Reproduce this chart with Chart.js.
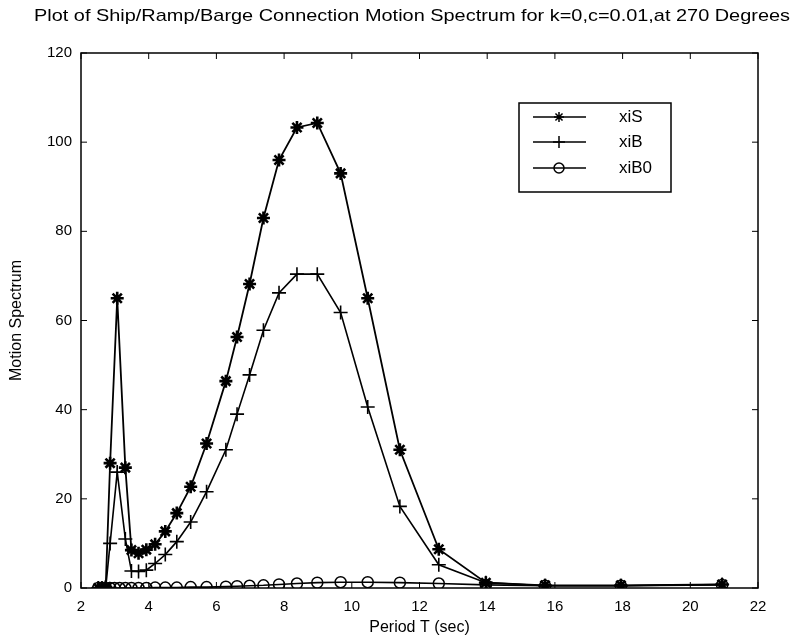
<!DOCTYPE html>
<html>
<head>
<meta charset="utf-8">
<script src="https://cdn.jsdelivr.net/npm/chart.js@4.4.0/dist/chart.umd.min.js"></script>
<style>
  html, body { margin: 0; padding: 0; background: #fff; }
</style>
</head>
<body>
<canvas id="chart" width="804" height="642"></canvas>
<script>
// Period T (sec) for each series
const periodS = [2.51, 2.62, 2.73, 2.86, 3.07, 3.31, 3.49, 3.70, 3.93, 4.19, 4.49, 4.83, 5.24, 5.71,
  6.28, 6.61, 6.98, 7.39, 7.85, 8.38, 8.98, 9.67, 10.47, 11.42, 12.57, 13.96, 15.71, 17.95, 20.94];
const xiS = [0, 0, 0.2, 28, 65, 27, 8.5, 7.8, 8.6, 9.8, 12.7, 16.8, 22.7, 32.4,
  46.4, 56.3, 68.2, 83, 96, 103.3, 104.3, 93, 65, 31, 8.7, 1.2, 0.6, 0.6, 0.8];

const periodB = [2.51, 2.62, 2.73, 2.86, 3.07, 3.31, 3.49, 3.70, 3.93, 4.19, 4.49, 4.83, 5.24, 5.71,
  6.28, 6.61, 6.98, 7.39, 7.85, 8.38, 8.98, 9.67, 10.47, 11.42, 12.57, 13.96, 15.71, 17.95, 20.94];
const xiB = [0, 0, 0.1, 10, 26, 11, 3.8, 3.7, 4, 5.5, 7.5, 10.4, 14.8, 21.6,
  31, 39, 47.8, 57.8, 66.2, 70.4, 70.4, 61.8, 40.6, 18.3, 5.2, 1.2, 0.5, 0.5, 0.8];

const periodB0 = [2.51, 2.62, 2.73, 2.86, 2.99, 3.14, 3.31, 3.49, 3.70, 3.93, 4.19, 4.49, 4.83, 5.24, 5.71,
  6.28, 6.61, 6.98, 7.39, 7.85, 8.38, 8.98, 9.67, 10.47, 11.42, 12.57, 13.96, 15.71, 17.95, 20.94];
const xiB0 = [0, 0, 0, 0, 0, 0, 0, 0, 0, 0, 0.1, 0.1, 0.1, 0.2, 0.2,
  0.3, 0.4, 0.5, 0.6, 0.8, 1.0, 1.2, 1.3, 1.3, 1.2, 1.0, 0.7, 0.5, 0.5, 0.7];

const xTickLabels = [2, 4, 6, 8, 10, 12, 14, 16, 18, 20, 22];
const yTickLabels = [0, 20, 40, 60, 80, 100, 120];

const titleText = "Plot of Ship/Ramp/Barge Connection Motion Spectrum for k=0,c=0.01,at 270 Degrees";
const FONT = "'Liberation Sans', Arial, sans-serif";

const pts = (xs, ys) => xs.map((x, i) => ({ x: x, y: ys[i] }));

// frame, inward ticks, titles and the boxed legend, MATLAB style
const matlabLook = {
  id: "matlabLook",
  afterDraw(chart) {
    const { ctx, chartArea: a, scales } = chart;
    const x = scales.x, y = scales.y;
    ctx.save();
    ctx.strokeStyle = "#000";
    ctx.fillStyle = "#000";
    ctx.lineWidth = 1.5;
    ctx.strokeRect(a.left, a.top, a.right - a.left, a.bottom - a.top);

    const seg = (x1, y1, x2, y2) => {
      ctx.beginPath(); ctx.moveTo(x1, y1); ctx.lineTo(x2, y2); ctx.stroke();
    };
    ctx.lineWidth = 1;
    x.ticks.forEach(t => {
      const px = x.getPixelForValue(t.value);
      seg(px, a.bottom, px, a.bottom - 6);
      seg(px, a.top, px, a.top + 6);
    });
    y.ticks.forEach(t => {
      const py = y.getPixelForValue(t.value);
      seg(a.left, py, a.left + 6, py);
      seg(a.right, py, a.right - 6, py);
    });

    // title, stretched to the scanned width
    ctx.font = "17px " + FONT;
    ctx.textAlign = "center";
    ctx.textBaseline = "middle";
    const tw = ctx.measureText(titleText).width;
    ctx.save();
    ctx.translate(412, 16);
    ctx.scale(756 / tw, 1);
    ctx.fillText(titleText, 0, 0);
    ctx.restore();

    // axis titles
    ctx.font = "16px " + FONT;
    ctx.fillText("Period T (sec)", (a.left + a.right) / 2, 628);
    ctx.save();
    ctx.translate(17, (a.top + a.bottom) / 2);
    ctx.rotate(-Math.PI / 2);
    ctx.fillText("Motion Spectrum", 0, 0);
    ctx.restore();

    // legend box
    const box = { l: 519, t: 103, r: 671, b: 192 };
    ctx.fillStyle = "#fff";
    ctx.fillRect(box.l, box.t, box.r - box.l, box.b - box.t);
    ctx.lineWidth = 1.5;
    ctx.strokeRect(box.l, box.t, box.r - box.l, box.b - box.t);
    const rows = [117, 142, 168];
    chart.data.datasets.forEach((ds, i) => {
      const ry = rows[i];
      ctx.strokeStyle = "#000";
      ctx.lineWidth = 1.5;
      seg(533, ry, 586, ry);
      ctx.fillStyle = ds.backgroundColor;
      Chart.helpers.drawPoint(ctx, {
        pointStyle: ds.pointStyle,
        radius: ds.legendRadius,
        borderWidth: ds.pointBorderWidth,
        rotation: 0
      }, 559, ry);
      ctx.fillStyle = "#000";
      ctx.font = "17px " + FONT;
      ctx.textAlign = "left";
      ctx.textBaseline = "middle";
      ctx.fillText(ds.label, 619, ry);
    });
    ctx.restore();
  }
};

new Chart(document.getElementById("chart"), {
  type: "line",
  data: {
    datasets: [
      {
        label: "xiS",
        data: pts(periodS, xiS),
        borderColor: "#000",
        backgroundColor: "#000",
        borderWidth: 1.8,
        pointStyle: "star",
        pointRadius: 6.5,
        pointBorderWidth: 2.6,
        legendRadius: 5
      },
      {
        label: "xiB",
        data: pts(periodB, xiB),
        borderColor: "#000",
        backgroundColor: "#000",
        borderWidth: 1.6,
        pointStyle: "cross",
        pointRadius: 7,
        pointBorderWidth: 1.6,
        legendRadius: 6
      },
      {
        label: "xiB0",
        data: pts(periodB0, xiB0),
        borderColor: "#000",
        backgroundColor: "rgba(255,255,255,0)",
        borderWidth: 1.6,
        pointStyle: "circle",
        pointRadius: 5.5,
        pointBorderWidth: 1.5,
        legendRadius: 5
      }
    ]
  },
  options: {
    responsive: false,
    animation: false,
    layout: { padding: { top: 53, right: 46, left: 0, bottom: 0 } },
    elements: { line: { tension: 0 } },
    plugins: {
      legend: { display: false },
      tooltip: { enabled: false }
    },
    scales: {
      x: {
        type: "linear",
        min: 2,
        max: 22,
        afterFit(s) { s.height = 54; },
        afterBuildTicks(s) { s.ticks = xTickLabels.map(v => ({ value: v })); },
        grid: { display: false, drawTicks: false },
        border: { display: false },
        ticks: { color: "#000", font: { family: FONT, size: 15 }, padding: 10 }
      },
      y: {
        min: 0,
        max: 120,
        afterFit(s) { s.width = 81; },
        afterBuildTicks(s) { s.ticks = yTickLabels.map(v => ({ value: v })); },
        grid: { display: false, drawTicks: false },
        border: { display: false },
        ticks: { color: "#000", font: { family: FONT, size: 15 }, padding: 9 }
      }
    }
  },
  plugins: [matlabLook]
});
</script>
</body>
</html>
